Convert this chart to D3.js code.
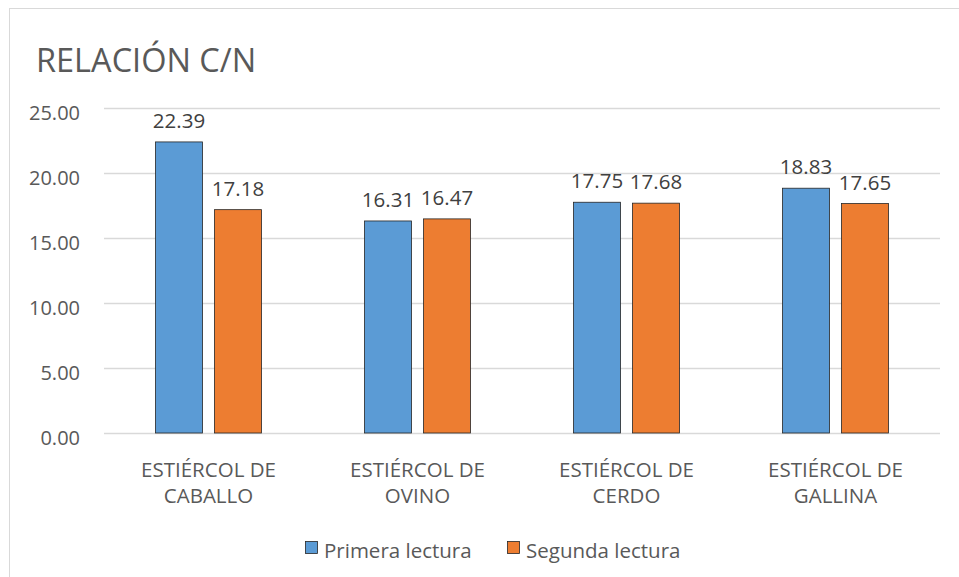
<!DOCTYPE html>
<html><head><meta charset="utf-8">
<script src="https://cdn.jsdelivr.net/npm/d3@7"></script>
<style>body{margin:0;background:#fff}svg{display:block}text{font-family:"Open Sans","Noto Sans",sans-serif}</style>
</head><body><svg id="c" width="959" height="577"></svg>
<script>
const categories = [["ESTIÉRCOL DE","CABALLO"],["ESTIÉRCOL DE","OVINO"],["ESTIÉRCOL DE","CERDO"],["ESTIÉRCOL DE","GALLINA"]];
const seriesNames = ["Primera lectura","Segunda lectura"];
const primera = [22.39,16.31,17.75,18.83];
const segunda = [17.18,16.47,17.68,17.65];
const yTicks = [0,5,10,15,20,25];
const colors = ["#5b9bd5","#ed7d31"];

const svg = d3.select("#c");
svg.append("rect").attr("x",9.5).attr("y",8.5).attr("width",1000).attr("height",1000).attr("fill","#fff").attr("stroke","#d9d9d9");
svg.append("text").attr("x",36).attr("y",72).attr("font-size",32.5).attr("fill","#595959").text("RELACIÓN C/N");

const L=104,R=940,T=108,B=433;
const x = d3.scaleBand().domain(d3.range(categories.length)).range([L,R]);
const y = d3.scaleLinear().domain([0,25]).range([B,T]);
const outer = (x.bandwidth()-106)/2;
const xs = d3.scaleBand().domain([0,1]).range([outer,x.bandwidth()-outer]).paddingInner(0.203).paddingOuter(0);

const g = svg.append("g");
g.selectAll("line.grid").data(yTicks).join("line").attr("x1",L).attr("x2",R)
 .attr("y1",d=>Math.round(y(d))+0.5).attr("y2",d=>Math.round(y(d))+0.5).attr("stroke","#d9d9d9").attr("stroke-width",1.4);
g.selectAll("text.yt").data(yTicks).join("text").attr("x",80).attr("y",d=>y(d)+12).attr("text-anchor","end")
 .attr("font-size",20).attr("fill","#595959").text(d=>d.toFixed(2));

const data = [primera,segunda];
data.forEach((vals,si)=>{
  g.selectAll("rect.s"+si).data(vals).join("rect")
   .attr("x",(d,i)=>x(i)+xs(si)).attr("width",xs.bandwidth())
   .attr("y",d=>y(d)).attr("height",d=>B-y(d))
   .attr("fill",colors[si]).attr("stroke","#262626").attr("stroke-width",0.8);
  g.selectAll("text.l"+si).data(vals).join("text")
   .attr("x",(d,i)=>x(i)+xs(si)+xs.bandwidth()/2).attr("y",d=>y(d)-14)
   .attr("text-anchor","middle").attr("font-size",20.5).attr("fill","#404040").text(d=>d.toFixed(2));
});

categories.forEach((c,i)=>{
  c.forEach((line,j)=>{
    g.append("text").attr("x",x(i)+x.bandwidth()/2).attr("y",477+j*26).attr("text-anchor","middle")
     .attr("font-size",20.5).attr("fill","#595959").text(line);
  });
});

const leg = svg.append("g");
const legX=[305,507];
seriesNames.forEach((n,i)=>{
  leg.append("rect").attr("x",legX[i]+0.5).attr("y",541.5).attr("width",12).attr("height",12)
   .attr("fill",colors[i]).attr("stroke","#262626").attr("stroke-width",0.8);
  leg.append("text").attr("x",legX[i]+19).attr("y",558).attr("font-size",20.5).attr("fill","#595959").text(n);
});
</script></body></html>
